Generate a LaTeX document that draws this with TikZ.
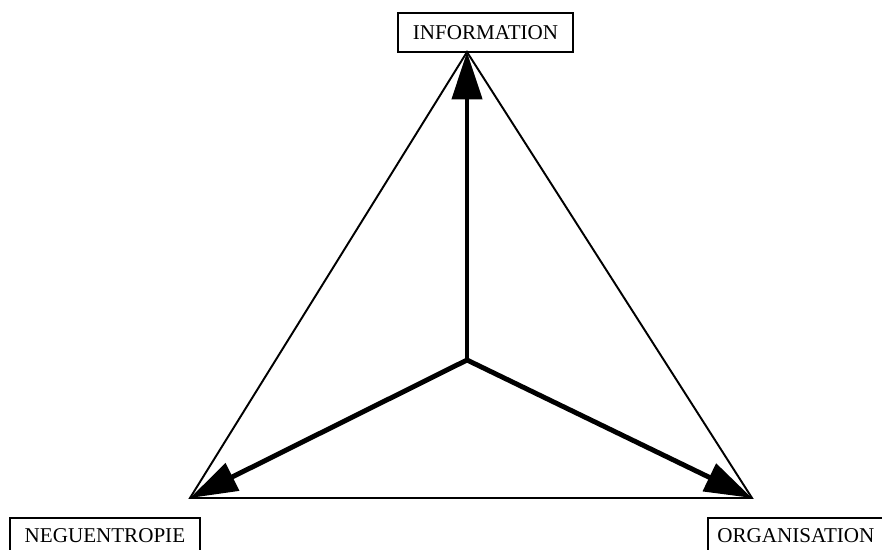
\documentclass[tikz,border=0pt]{standalone}
\usepackage{fontspec}
\setmainfont{Liberation Serif}
\usetikzlibrary{arrows.meta}

\tikzset{
  pole/.style={draw, line width=1.2pt, rectangle, inner sep=0pt, minimum height=22pt, font=\fontsize{12}{14}\selectfont},
  lowpole/.style={pole, text height=13.6pt, text depth=8pt, anchor=north west},
  axis/.style={line width=2.8pt, -{Triangle[length=27pt, width=17pt]}},
  side/.style={line width=1.1pt}
}

\begin{document}
\begin{tikzpicture}[x=0.02cm, y=-0.02cm]
  \useasboundingbox (0,0) rectangle (882,549);
  % sommets du triangle
  \coordinate (info) at (467,52);
  \coordinate (neg) at (190,498);
  \coordinate (org) at (752,498);
  \coordinate (centre) at (467,360);
  \draw [side] (info)--(neg)--(org)--cycle;
  \draw [axis] (centre)--(info);
  \draw [axis] (centre)--(neg);
  \draw [axis] (centre)--(org);
  % etiquettes
  \node [pole, minimum width=100pt] (information) at (485.5,32.5) {INFORMATION};
  \node [lowpole, minimum width=108pt] (neguentropie) at (9,517) {NEGUENTROPIE};
  \node [lowpole, minimum width=100pt] (organisation) at (707,517) {ORGANISATION};
\end{tikzpicture}
\end{document}
